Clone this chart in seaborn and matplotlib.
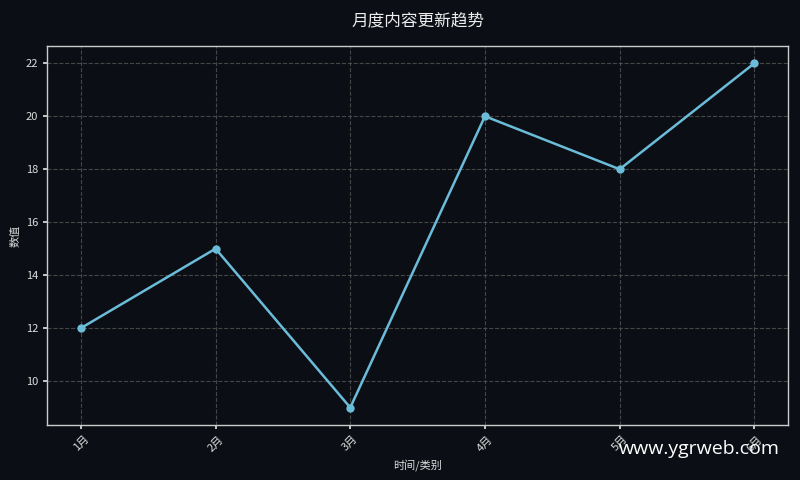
import matplotlib
matplotlib.use("Agg")
import matplotlib.pyplot as plt
import seaborn as sns
import pandas as pd

# data
months = ['1月', '2月', '3月', '4月', '5月', '6月']
values = [12, 15, 9, 20, 18, 22]

bg = '#0b0e14'
line_color = '#6bbcd9'

sns.set_theme(style="dark")
plt.rcParams['font.family'] = ['Noto Sans CJK SC', 'DejaVu Sans']
plt.rcParams['axes.unicode_minus'] = False

df = pd.DataFrame({'month': months, 'value': values})

fig, ax = plt.subplots(figsize=(8, 4.8), dpi=100)
fig.patch.set_facecolor(bg)
ax.set_facecolor(bg)

sns.lineplot(data=df, x='month', y='value', ax=ax, color=line_color,
             linewidth=1.8, marker='o', markersize=6, markeredgewidth=0)

ax.grid(True, color='#555555', linestyle='--', linewidth=0.8, alpha=0.8)
for s in ax.spines.values():
    s.set_color('#cccccc')
    s.set_linewidth(1)

ax.tick_params(colors='#dddddd', labelsize=8, length=3, bottom=True, left=True)
plt.setp(ax.get_xticklabels(), rotation=45)

ax.set_xlabel('时间/类别', color='#dddddd', fontsize=8)
ax.set_ylabel('数值', color='#dddddd', fontsize=8)
ax.set_title('月度内容更新趋势', color='#eeeeee', fontsize=12, pad=15)

fig.subplots_adjust(left=0.059, right=0.985, top=0.904, bottom=0.115)

# watermark
fig.text(0.975, 0.045, 'www.ygrweb.com', color='#ffffff', fontsize=14,
         ha='right', va='bottom', family=['Open Sans', 'DejaVu Sans'])

plt.savefig('out.png', dpi=100, facecolor=bg)
